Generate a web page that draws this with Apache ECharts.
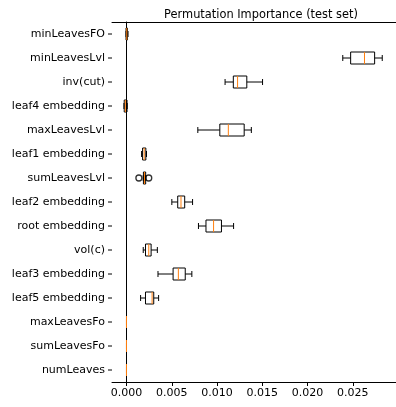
<!DOCTYPE html>
<html>
<head>
<meta charset="utf-8">
<script src="https://cdn.jsdelivr.net/npm/echarts@6/dist/echarts.min.js"></script>
<style>
html, body { margin: 0; padding: 0; background: #fff; }
#chart { width: 396px; height: 407px; }
</style>
</head>
<body>
<div id="chart"></div>
<script>
// features, top to bottom
var features = ['minLeavesFO', 'minLeavesLvl', 'inv(cut)', 'leaf4 embedding', 'maxLeavesLvl',
  'leaf1 embedding', 'sumLeavesLvl', 'leaf2 embedding', 'root embedding', 'vol(c)',
  'leaf3 embedding', 'leaf5 embedding', 'maxLeavesFo', 'sumLeavesFo', 'numLeaves'];
var whiskerLow = [-0.00005, 0.02389, 0.01089, -0.00028, 0.00788, 0.00167, 0.00185, 0.00501, 0.00795, 0.00185, 0.00348, 0.00156, 0, 0, 0];
var q1 =         [-0.00005, 0.02476, 0.01180, -0.00025, 0.01031, 0.00178, 0.00187, 0.00566, 0.00878, 0.00210, 0.00515, 0.00210, 0, 0, 0];
var median =     [ 0.00003, 0.02629, 0.01227, -0.00012, 0.01125, 0.00196, 0.00199, 0.00602, 0.00962, 0.00246, 0.00573, 0.00283, 0, 0, 0];
var q3 =         [ 0.00010, 0.02741, 0.01329,  0.00006, 0.01300, 0.00214, 0.00212, 0.00643, 0.01049, 0.00272, 0.00649, 0.00301, 0, 0, 0];
var whiskerHigh =[ 0.00017, 0.02825, 0.01503,  0.00008, 0.01379, 0.00221, 0.00214, 0.00730, 0.01183, 0.00341, 0.00722, 0.00355, 0, 0, 0];
// [value, feature index]
var outliers = [[0.00137, 6], [0.00246, 6]];
var xTicks = [0, 0.005, 0.01, 0.015, 0.02, 0.025];
var xMin = -0.0016, xMax = 0.02977;

var boxData = features.map(function (f, i) {
  return [i, whiskerLow[i], q1[i], median[i], q3[i], whiskerHigh[i]];
});

function seg(x1, y1, x2, y2, color) {
  return { type: 'line', shape: { x1: x1, y1: y1, x2: x2, y2: y2 },
    style: { stroke: color || '#000', lineWidth: 1 } };
}

function renderBox(params, api) {
  var i = api.value(0);
  var lo = api.coord([api.value(1), i])[0];
  var b1 = api.coord([api.value(2), i])[0];
  var md = api.coord([api.value(3), i])[0];
  var b3 = api.coord([api.value(4), i])[0];
  var hi = api.coord([api.value(5), i])[0];
  var spine = api.coord([xMin, i])[0];
  var y = api.coord([0, i])[1];
  var band = api.size([0, 1])[1];
  var h = band * 0.25;
  var c = h / 2;
  return {
    type: 'group',
    children: [
      seg(spine - 4, y, spine, y),  // y tick
      seg(lo, y, b1, y),
      seg(b3, y, hi, y),
      seg(lo, y - c, lo, y + c),
      seg(hi, y - c, hi, y + c),
      seg(b1, y - h, b3, y - h),
      seg(b1, y + h, b3, y + h),
      seg(b1, y - h, b1, y + h),
      seg(b3, y - h, b3, y + h),
      seg(md, y - h, md, y + h, '#ff7f0e')
    ]
  };
}

var chart = echarts.init(document.getElementById('chart'));
var font = 'DejaVu Sans';
chart.setOption({
  animation: false,
  textStyle: { fontFamily: font },
  title: {
    text: 'Permutation Importance (test set)',
    left: 256, textAlign: 'center', top: 5,
    textStyle: { fontSize: 11.4, fontWeight: 'normal', color: '#000', fontFamily: font }
  },
  grid: { left: 112, top: 22, width: 288, height: 360 },
  xAxis: [{
    type: 'value', min: xMin, max: xMax,
    axisLine: { show: true, lineStyle: { color: '#000', width: 1 } },
    axisTick: { show: true, length: 4, customValues: xTicks, lineStyle: { color: '#000' } },
    axisLabel: { customValues: xTicks, margin: 6, fontSize: 11, color: '#000', fontFamily: font,
      formatter: function (v) { return v.toFixed(3); } },
    splitLine: { show: false }
  }, {
    type: 'value', position: 'top', min: xMin, max: xMax,
    axisLine: { show: true, lineStyle: { color: '#000', width: 1 } },
    axisTick: { show: false }, axisLabel: { show: false }, splitLine: { show: false }
  }],
  yAxis: {
    type: 'category', data: features, inverse: true,
    axisLine: { show: true, lineStyle: { color: '#000', width: 1 } },
    axisTick: { show: false },
    axisLabel: { interval: 0, margin: 7, fontSize: 11, color: '#000', fontFamily: font },
    splitLine: { show: false }
  },
  series: [{
    type: 'custom',
    renderItem: renderBox,
    clip: false,
    data: boxData,
    encode: { x: [1, 2, 3, 4, 5], y: 0 }
  }, {
    type: 'scatter',
    data: outliers,
    symbol: 'circle', symbolSize: 6,
    itemStyle: { color: 'rgba(0,0,0,0)', borderColor: '#000', borderWidth: 1.3 }
  }]
});
</script>
</body>
</html>
